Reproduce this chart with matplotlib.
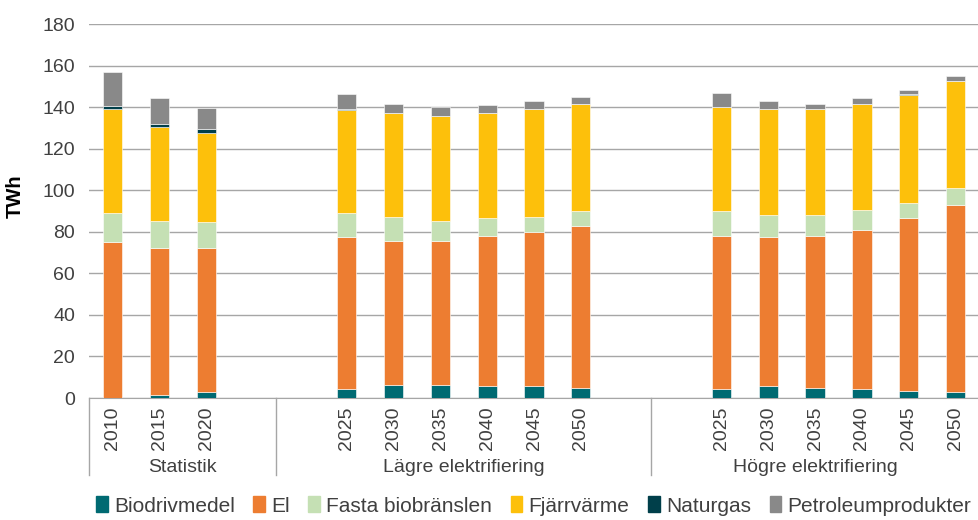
import matplotlib.pyplot as plt
from matplotlib.patches import Patch
import numpy as np

plt.rcParams['font.family'] = ['Liberation Sans', 'DejaVu Sans']

# Data (TWh)
years = ['2010', '2015', '2020',
         '2025', '2030', '2035', '2040', '2045', '2050',
         '2025', '2030', '2035', '2040', '2045', '2050']
groups = ['Statistik', 'Lägre elektrifiering', 'Högre elektrifiering']

biodrivmedel = [0.0, 1.4, 2.7,
                4.2, 6.1, 6.1, 5.6, 5.6, 4.8,
                4.2, 5.6, 4.8, 4.2, 3.5, 2.9]
el = [75.2, 70.9, 69.6,
      73.1, 69.6, 69.6, 72.2, 74.1, 77.8,
      73.6, 71.7, 73.0, 76.8, 82.9, 90.1]
fasta = [14.0, 13.0, 12.4,
         11.9, 11.5, 9.6, 8.8, 7.5, 7.4,
         12.2, 10.6, 10.1, 9.6, 7.6, 8.3]
fjarrvarme = [49.9, 45.1, 43.0,
              49.2, 49.8, 50.2, 50.4, 51.7, 51.6,
              50.3, 51.0, 51.0, 51.0, 51.6, 51.4]
naturgas = [1.6, 1.3, 2.0,
            0.7, 0.0, 0.0, 0.0, 0.0, 0.0,
            0.0, 0.0, 0.0, 0.0, 0.5, 0.0]
petroleum = [16.2, 12.5, 10.0,
             7.2, 4.6, 4.8, 4.1, 4.2, 3.5,
             6.6, 4.2, 2.7, 2.8, 2.3, 2.4]

series = [('Biodrivmedel', biodrivmedel, '#006A72'),
          ('El', el, '#ED7D31'),
          ('Fasta biobränslen', fasta, '#C5E0B4'),
          ('Fjärrvärme', fjarrvarme, '#FDC00B'),
          ('Naturgas', naturgas, '#003F4A'),
          ('Petroleumprodukter', petroleum, '#898989')]

# slot positions: one empty slot after statistik, two between scenarios
pos = [0, 1, 2, 5, 6, 7, 8, 9, 10, 13, 14, 15, 16, 17, 18]
seps = [-0.5, 3.5, 11.5]
centers = [1.5, 7.5, 15.0]

text_col = '#404040'
fig = plt.figure(figsize=(9.79, 5.2), dpi=100)
ax = fig.add_axes([0.091, 0.2346, 0.909, 0.7192])

bottom = np.zeros(len(pos))
for name, vals, col in series:
    ax.bar(pos, vals, 0.41, bottom=bottom, color=col, edgecolor='white',
           linewidth=0.4, label=name, zorder=3)
    bottom += np.array(vals)

ax.set_xlim(-0.5, 18.5)
ax.set_ylim(0, 180)
ax.set_yticks(range(0, 181, 20))
ax.yaxis.grid(True, color='#A6A6A6', linewidth=1)
ax.set_axisbelow(True)
for s in ['top', 'right', 'left']:
    ax.spines[s].set_visible(False)
ax.spines['bottom'].set_color('#A6A6A6')
ax.tick_params(axis='y', length=0, labelsize=14, labelcolor=text_col, pad=10)
ax.set_xticks(pos)
ax.set_xticklabels(years, rotation=90)
ax.tick_params(axis='x', length=0, labelsize=14, labelcolor=text_col, pad=6)
ax.set_ylabel('TWh', fontsize=14.5, fontweight='bold', color='black')
ax.yaxis.set_label_coords(-0.072, 0.54)

# group axis below the year labels
trans = ax.get_xaxis_transform()
for x in seps:
    ax.plot([x, x], [0, -0.206], transform=trans, color='#A6A6A6',
            linewidth=1, clip_on=False)
for c, g in zip(centers, groups):
    ax.text(c, -0.187, g, transform=trans, ha='center', va='center',
            fontsize=14, color=text_col)

handles = [Patch(color=col) for _, _, col in series]
labels = [name for name, _, _ in series]
fig.legend(handles, labels, loc='center', bbox_to_anchor=(0.545, 0.027),
           ncol=6, frameon=False, fontsize=15, handlelength=0.55,
           handleheight=0.8, handletextpad=0.3, columnspacing=0.9,
           labelcolor=text_col)

fig.savefig('out.png', dpi=100)
